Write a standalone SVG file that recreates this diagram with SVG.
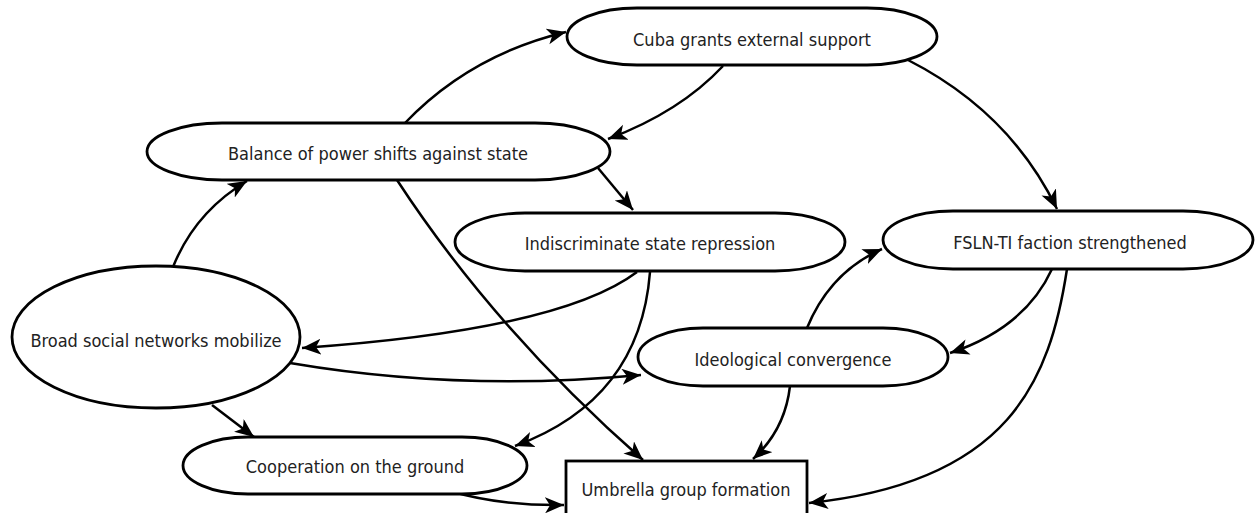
<svg xmlns="http://www.w3.org/2000/svg" width="1256" height="513" viewBox="0 0 1256 513">
<style>
.n{fill:#fff;stroke:#000;stroke-width:2.8}
.t{font-family:"DejaVu Sans Condensed","DejaVu Sans",sans-serif;font-size:18px;fill:#222;text-anchor:middle;dominant-baseline:central}
.c{fill:none;stroke:#000;stroke-width:2.5;marker-end:url(#ah)}
</style>
<defs>
<marker id="ah" markerUnits="userSpaceOnUse" markerWidth="22" markerHeight="18" refX="19" refY="8" orient="auto">
<path d="M0,0 L19,8 L0,16 L5,8 z" fill="#000"/>
</marker>
</defs>
<rect width="1256" height="513" fill="#fff"/>
<g id="connectors">
<path class="c" d="M405,123 Q470,55 566,32"/>
<path class="c" d="M723,66 Q680,112 608,139"/>
<path class="c" d="M598,168 L633,210"/>
<path class="c" d="M908,60 Q1010,112 1057,209"/>
<path class="c" d="M173,267 Q195,212 247,181"/>
<path class="c" d="M397,180 Q495,330 643,460"/>
<path class="c" d="M637,272 Q560,330 302,348"/>
<path class="c" d="M650,272 Q640,400 515,446"/>
<path class="c" d="M290,363 Q460,392 641,375"/>
<path class="c" d="M212,405 L254,437"/>
<path class="c" d="M450,491 Q500,506 564,505"/>
<path class="c" d="M807,328 Q830,272 882,249"/>
<path class="c" d="M1052,269 Q1025,328 950,353"/>
<path class="c" d="M1067,269 C1050,380 1010,482 809,503"/>
<path class="c" d="M790,386 Q785,430 753,459"/>
</g>
<g id="cuba">
<rect class="n" x="567" y="8" width="370" height="57" rx="70" ry="28.5"/>
<text class="t" x="752" y="39">Cuba grants external support</text>
</g>
<g id="balance">
<rect class="n" x="147" y="123" width="463" height="57" rx="75" ry="28.5"/>
<text class="t" x="378" y="153">Balance of power shifts against state</text>
</g>
<g id="indiscriminate">
<rect class="n" x="455" y="213" width="390" height="58" rx="70" ry="29"/>
<text class="t" x="650" y="243">Indiscriminate state repression</text>
</g>
<g id="fsln">
<rect class="n" x="883" y="211" width="370" height="58" rx="70" ry="29"/>
<text class="t" x="1070" y="242">FSLN-TI faction strengthened</text>
</g>
<g id="broad">
<ellipse class="n" cx="156" cy="337" rx="144" ry="71"/>
<text class="t" x="156" y="340">Broad social networks mobilize</text>
</g>
<g id="ideological">
<rect class="n" x="638" y="328" width="310" height="58" rx="65" ry="29"/>
<text class="t" x="793" y="359">Ideological convergence</text>
</g>
<g id="cooperation">
<rect class="n" x="183" y="437" width="344" height="57" rx="65" ry="28.5"/>
<text class="t" x="355" y="466">Cooperation on the ground</text>
</g>
<g id="umbrella">
<rect class="n" x="566" y="461" width="241" height="62"/>
<text class="t" x="686" y="489">Umbrella group formation</text>
</g>
</svg>
